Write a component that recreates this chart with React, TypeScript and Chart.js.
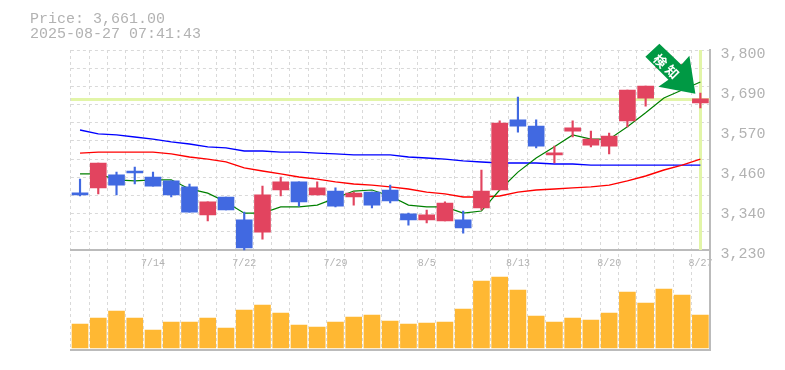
import React, { useEffect, useRef } from "react";
import { Chart, registerables } from "chart.js";

Chart.register(...registerables);

const priceText = "Price: 3,661.00";
const timeText = "2025-08-27 07:41:43";
const arrowText = ["検", "知"];
const lastPrice = 3661;

const categories = [
  "7/8", "7/9", "7/10", "7/11", "7/14", "7/15", "7/16", "7/17", "7/18", "7/22",
  "7/23", "7/24", "7/25", "7/28", "7/29", "7/30", "7/31", "8/1", "8/4", "8/5",
  "8/6", "8/7", "8/8", "8/12", "8/13", "8/14", "8/15", "8/18", "8/19", "8/20",
  "8/21", "8/22", "8/25", "8/26", "8/27",
];
const shownDates = ["7/14", "7/22", "7/29", "8/5", "8/13", "8/20", "8/27"];

const opens = [3393, 3407, 3444, 3455, 3438, 3427, 3410, 3330, 3381, 3316, 3281, 3401, 3424, 3387, 3398, 3381, 3395, 3401, 3333, 3316, 3313, 3316, 3350, 3401, 3601, 3583, 3501, 3569, 3529, 3526, 3598, 3663, 3749, 3703, 3649];
const closes = [3387, 3478, 3415, 3450, 3412, 3387, 3338, 3367, 3344, 3236, 3387, 3424, 3367, 3407, 3355, 3392, 3358, 3370, 3316, 3330, 3364, 3293, 3398, 3592, 3583, 3526, 3507, 3578, 3546, 3555, 3686, 3697, 3783, 3754, 3661];
const highs = [3432, 3478, 3452, 3466, 3452, 3427, 3418, 3367, 3381, 3338, 3412, 3438, 3424, 3424, 3407, 3395, 3395, 3415, 3335, 3344, 3367, 3341, 3458, 3598, 3666, 3601, 3526, 3598, 3569, 3563, 3686, 3697, 3789, 3760, 3677];
const lows = [3384, 3390, 3387, 3418, 3412, 3381, 3338, 3313, 3344, 3230, 3261, 3384, 3355, 3387, 3353, 3358, 3350, 3364, 3301, 3307, 3313, 3278, 3344, 3401, 3566, 3521, 3478, 3552, 3524, 3504, 3581, 3640, 3743, 3695, 3635];
const upDays = [false, true, false, false, false, false, false, true, false, false, true, true, false, true, false, true, false, false, false, true, true, false, true, true, false, false, true, true, true, true, true, true, true, true, true];

const maShort = [3447, 3447, 3430, 3427, 3430, 3430, 3404, 3392, 3367, 3335, 3335, 3353, 3353, 3358, 3378, 3398, 3401, 3384, 3358, 3353, 3353, 3335, 3341, 3401, 3452, 3492, 3524, 3558, 3546, 3546, 3581, 3621, 3663, 3686, 3709];
const maMid = [3506, 3509, 3509, 3509, 3509, 3504, 3495, 3489, 3481, 3464, 3455, 3447, 3438, 3432, 3424, 3418, 3415, 3410, 3404, 3395, 3390, 3381, 3381, 3384, 3395, 3401, 3404, 3407, 3410, 3415, 3427, 3441, 3458, 3472, 3489];
const maLong = [3572, 3561, 3558, 3552, 3546, 3538, 3532, 3524, 3521, 3512, 3512, 3509, 3509, 3506, 3504, 3501, 3501, 3501, 3495, 3492, 3489, 3484, 3481, 3478, 3478, 3478, 3475, 3475, 3472, 3472, 3472, 3472, 3472, 3472, 3472];
const volumes = [240, 300, 370, 300, 180, 260, 260, 300, 200, 380, 430, 350, 230, 210, 260, 310, 330, 270, 240, 250, 260, 390, 670, 710, 580, 320, 260, 300, 280, 350, 560, 450, 590, 530, 330];

const priceTicks = [3800, 3686, 3572, 3458, 3344, 3230];
const priceTickLabels = ["3,800", "3,690", "3,570", "3,460", "3,340", "3,230"];
const gridPrices = [3800, 3748.2, 3696.4, 3644.5, 3592.7, 3540.9, 3489.1, 3437.3, 3385.5, 3333.6, 3281.8, 3230];

const RED = "#e2445f";
const BLUE = "#4169e1";
const GRID = "#d9d9d9";
const AXIS = "#bbbbbb";
const TEXT = "#b2b2b2";
const MARK = "#e2f5a8";
const MONO = '"Liberation Mono", monospace';

const overlay = {
  id: "overlay",
  beforeDatasetsDraw(chart: any) {
    const { ctx, chartArea, scales } = chart;
    const y = scales.y.getPixelForValue(lastPrice);
    const x = Math.round(scales.x.getPixelForValue(categories.length - 1));
    const yBase = scales.y.getPixelForValue(3230);
    ctx.save();
    ctx.fillStyle = MARK;
    ctx.fillRect(chartArea.left, Math.round(y) - 1, chartArea.right - chartArea.left, 3);
    ctx.fillRect(x - 1, chartArea.top, 3, yBase - chartArea.top);
    ctx.restore();
  },
  afterDatasetsDraw(chart: any) {
    const { ctx, scales } = chart;
    const tx = scales.x.getPixelForValue(categories.length - 1) - 5;
    const ty = scales.y.getPixelForValue(lastPrice) - 5;
    const shape = [
      [0, 0], [-37, -7], [-27, -14], [-50, -37], [-36, -50], [-14, -29], [-6, -38],
    ];
    ctx.save();
    ctx.fillStyle = "#009944";
    ctx.beginPath();
    shape.forEach(([dx, dy], i) => {
      if (i === 0) ctx.moveTo(tx + dx, ty + dy);
      else ctx.lineTo(tx + dx, ty + dy);
    });
    ctx.closePath();
    ctx.fill();
    ctx.fillStyle = "#ffffff";
    ctx.font = 'bold 13px "Noto Sans CJK JP"';
    ctx.textAlign = "center";
    ctx.textBaseline = "middle";
    [[-35, -33], [-23, -22]].forEach(([dx, dy], i) => {
      ctx.save();
      ctx.translate(tx + dx, ty + dy);
      ctx.rotate(Math.PI / 4);
      ctx.fillText(arrowText[i], 0, 0);
      ctx.restore();
    });
    ctx.restore();
  },
  afterDraw(chart: any) {
    const { ctx } = chart;
    ctx.save();
    ctx.fillStyle = TEXT;
    ctx.font = `15px ${MONO}`;
    ctx.textAlign = "left";
    ctx.textBaseline = "alphabetic";
    ctx.fillText(priceText, 30, 23);
    ctx.fillText(timeText, 30, 38);
    ctx.restore();
  },
};

const candleColors = upDays.map((u) => (u ? RED : BLUE));
const pairs = (a: number[], b: number[]) => a.map((v, i) => [v, b[i]]);

export default function App() {
  const ref = useRef<HTMLCanvasElement | null>(null);
  useEffect(() => {
    if (!ref.current) return;
    const lineBase = { type: "line", pointRadius: 0, tension: 0, yAxisID: "y", order: 3, fill: false };
    const chart = new Chart(ref.current, {
      type: "bar",
      data: {
        labels: categories,
        datasets: [
          { label: "Body", data: pairs(opens, closes), backgroundColor: candleColors, barThickness: 16, grouped: false, yAxisID: "y", order: 0 },
          { label: "Wick", data: pairs(lows, highs), backgroundColor: candleColors, barThickness: 1.5, grouped: false, yAxisID: "y", order: 1 },
          { label: "Volume", data: volumes, backgroundColor: "#ffb833", barThickness: 16, grouped: false, yAxisID: "yVol", order: 2 },
          { ...lineBase, label: "MA short", data: maShort, borderColor: "#008000", borderWidth: 1.2 },
          { ...lineBase, label: "MA mid", data: maMid, borderColor: "#ff0000", borderWidth: 1.4 },
          { ...lineBase, label: "MA long", data: maLong, borderColor: "#0000ff", borderWidth: 1.4 },
        ] as any,
      },
      options: {
        responsive: false,
        animation: false,
        devicePixelRatio: 1,
        layout: { padding: { left: 70.9, top: 50, bottom: 20, right: 0 } },
        plugins: { legend: { display: false }, tooltip: { enabled: false }, title: { display: false } },
        scales: {
          x: {
            type: "category",
            position: { y: 3230 },
            offset: true,
            grid: { color: GRID, offset: true, drawTicks: false },
            border: { color: AXIS, width: 2, dash: [3, 3] },
            ticks: {
              autoSkip: false,
              maxRotation: 0,
              minRotation: 0,
              padding: 7,
              color: TEXT,
              font: { family: MONO, size: 10 },
              callback(_v: any, i: number) {
                return shownDates.includes(categories[i]) ? categories[i] : "";
              },
            },
            afterFit(s: any) { s.height = 0; },
          },
          xBottom: {
            type: "category",
            position: "bottom",
            labels: categories,
            offset: true,
            grid: { display: false },
            border: { color: AXIS, width: 2 },
            ticks: { display: false },
            afterFit(s: any) { s.height = 0; },
          },
          y: {
            position: "right",
            min: 2945,
            max: 3800,
            grid: { color: GRID, drawTicks: false },
            border: { display: false, dash: [3, 3] },
            ticks: { display: false },
            afterBuildTicks(s: any) { s.ticks = gridPrices.map((value) => ({ value })); },
            afterFit(s: any) { s.width = 0; },
          },
          yPrice: {
            position: "right",
            min: 2945,
            max: 3800,
            grid: { display: false, drawTicks: false },
            border: { color: AXIS, width: 2 },
            ticks: {
              color: TEXT,
              padding: 11,
              labelOffset: 4,
              font: { family: MONO, size: 15 },
              callback(v: any) {
                const i = priceTicks.indexOf(v);
                return i >= 0 ? priceTickLabels[i] : "";
              },
            },
            afterBuildTicks(s: any) { s.ticks = priceTicks.map((value) => ({ value })); },
            afterFit(s: any) { s.width = 75.5; },
          },
          yVol: {
            display: false,
            position: "right",
            min: -20,
            max: 2980,
          },
        },
      } as any,
      plugins: [overlay],
    });
    return () => chart.destroy();
  }, []);
  return (
    <div style={{ position: "absolute", left: 0, top: 0, width: 785, height: 370, background: "#fff" }}>
      <canvas ref={ref} width={785} height={370} style={{ display: "block" }} />
    </div>
  );
}
